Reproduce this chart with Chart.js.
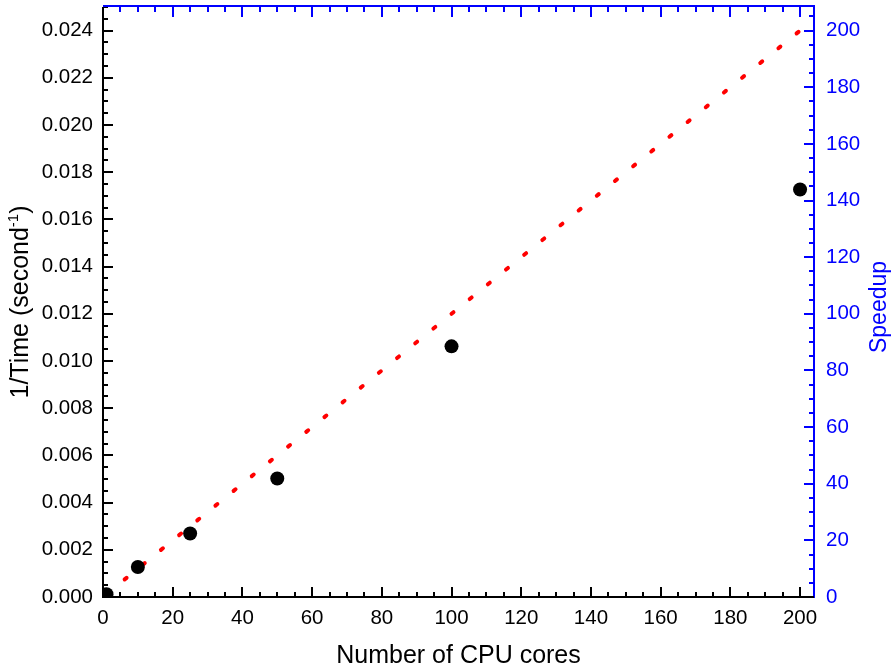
<!DOCTYPE html>
<html>
<head>
<meta charset="utf-8">
<script src="https://cdn.jsdelivr.net/npm/chart.js@4/dist/chart.umd.min.js"></script>
<style>
  html, body { margin: 0; padding: 0; background: #fff; }
  #wrap { width: 896px; height: 671px; }
</style>
</head>
<body>
<div id="wrap"><canvas id="chartSpeedup"></canvas></div>
<script>
// data
const cores = [1, 10, 25, 50, 100, 200];
const inverseTime = [0.00012, 0.00127, 0.00269, 0.00502, 0.01062, 0.01727];
const idealCores = [1, 200];
const idealSpeedup = [1, 200];

const FONT = "'Liberation Sans', Arial, sans-serif";
const BLUE = "#0000ff";
const speedupPerInv = 1 / 0.00012;
const yMax = 0.025;

// frame + inward ticks (major / minor), plus the two vertical titles
const frameTicks = {
  id: "frameTicks",
  afterDatasetsDraw(chart) {
    const { ctx, chartArea: a, scales } = chart;
    const { x, y, y2 } = scales;
    ctx.save();
    ctx.lineWidth = 2;
    ctx.lineCap = "butt";

    function seg(x1, y1, x2, y2c, color) {
      ctx.strokeStyle = color;
      ctx.beginPath();
      ctx.moveTo(x1, y1);
      ctx.lineTo(x2, y2c);
      ctx.stroke();
    }

    // x ticks, bottom black, top blue
    for (let v = 0; v <= x.max + 0.001; v += 5) {
      const px = Math.round(x.getPixelForValue(v));
      const len = v % 20 === 0 ? 10 : 5;
      seg(px, a.bottom, px, a.bottom - len, "#000");
      seg(px, a.top, px, a.top + len, BLUE);
    }
    // left ticks
    for (let i = 0; i * 0.0005 <= yMax + 1e-9; i++) {
      const py = Math.round(y.getPixelForValue(i * 0.0005));
      const len = i % 4 === 0 ? 10 : 5;
      seg(a.left, py, a.left + len, py, "#000");
    }
    // right ticks
    for (let v = 0; v <= y2.max; v += 5) {
      const py = Math.round(y2.getPixelForValue(v));
      const len = v % 20 === 0 ? 10 : 5;
      seg(a.right, py, a.right - len, py, BLUE);
    }

    // frame
    seg(a.left, a.top - 1, a.right + 1, a.top - 1, BLUE);
    seg(a.right, a.top - 1, a.right, a.bottom + 1, BLUE);
    seg(a.left - 1, a.bottom, a.right, a.bottom, "#000");
    seg(a.left, a.top, a.left, a.bottom + 1, "#000");
    ctx.restore();
  },
  afterDraw(chart) {
    const { ctx, chartArea: a } = chart;
    const midY = (a.top + a.bottom) / 2;

    // right title
    ctx.save();
    ctx.translate(880, midY + 5);
    ctx.rotate(-Math.PI / 2);
    ctx.fillStyle = BLUE;
    ctx.font = "23px " + FONT;
    ctx.textAlign = "center";
    ctx.textBaseline = "middle";
    ctx.fillText("Speedup", 0, 0);
    ctx.restore();

    // left title with superscript
    ctx.save();
    ctx.translate(28, midY);
    ctx.rotate(-Math.PI / 2);
    ctx.fillStyle = "#000";
    ctx.textBaseline = "alphabetic";
    ctx.textAlign = "left";
    const big = "25px " + FONT, small = "15px " + FONT;
    const p1 = "1/Time (second", p2 = "-1", p3 = ")";
    ctx.font = big;
    const w1 = ctx.measureText(p1).width, w3 = ctx.measureText(p3).width;
    ctx.font = small;
    const w2 = ctx.measureText(p2).width;
    let cx = -(w1 + w2 + w3) / 2;
    ctx.font = big;
    ctx.fillText(p1, cx, 0);
    cx += w1;
    ctx.font = small;
    ctx.fillText(p2, cx, -10);
    cx += w2;
    ctx.font = big;
    ctx.fillText(p3, cx, 0);
    ctx.restore();
  }
};

new Chart(document.getElementById("chartSpeedup"), {
  type: "scatter",
  data: {
    datasets: [
      {
        label: "Measured",
        data: cores.map((c, i) => ({ x: c, y: inverseTime[i] })),
        yAxisID: "y",
        backgroundColor: "#000",
        borderWidth: 0,
        pointRadius: 7,
        pointHoverRadius: 7,
        clip: 0,
        order: 1
      },
      {
        label: "Ideal",
        data: idealCores.map((c, i) => ({ x: c, y: idealSpeedup[i] })),
        yAxisID: "y2",
        showLine: true,
        borderColor: "#ff0000",
        borderWidth: 4,
        borderDash: [2.5, 20.9],
        borderCapStyle: "round",
        pointRadius: 0,
        order: 2
      }
    ]
  },
  options: {
    responsive: true,
    maintainAspectRatio: false,
    animation: false,
    layout: { padding: { top: 6, left: 0, right: 0, bottom: 0 } },
    plugins: {
      legend: { display: false },
      tooltip: { enabled: false }
    },
    scales: {
      x: {
        type: "linear",
        position: "bottom",
        min: 0,
        max: 204,
        grid: { display: false, drawTicks: false },
        border: { display: false },
        ticks: {
          stepSize: 20,
          includeBounds: false,
          padding: 9,
          color: "#000",
          font: { family: FONT, size: 20.5 },
          maxRotation: 0
        },
        title: {
          display: true,
          text: "Number of CPU cores",
          color: "#000",
          font: { family: FONT, size: 25 },
          padding: { top: 0, bottom: 0 }
        },
        afterFit: (s) => { s.height = 74; s.paddingLeft = 0; s.paddingRight = 0; }
      },
      y: {
        type: "linear",
        position: "left",
        min: 0,
        max: yMax,
        grid: { display: false, drawTicks: false },
        border: { display: false },
        ticks: {
          stepSize: 0.002,
          includeBounds: false,
          padding: 10,
          color: "#000",
          font: { family: FONT, size: 20.5 },
          callback: (v) => Number(v).toFixed(3)
        },
        afterFit: (s) => { s.width = 103; s.paddingTop = 0; s.paddingBottom = 0; }
      },
      y2: {
        type: "linear",
        position: "right",
        min: 0,
        max: yMax * speedupPerInv,
        grid: { display: false, drawTicks: false },
        border: { display: false },
        ticks: {
          stepSize: 20,
          includeBounds: false,
          padding: 12,
          color: BLUE,
          font: { family: FONT, size: 20.5 }
        },
        afterFit: (s) => { s.width = 82; s.paddingTop = 0; s.paddingBottom = 0; }
      }
    }
  },
  plugins: [frameTicks]
});
</script>
</body>
</html>
